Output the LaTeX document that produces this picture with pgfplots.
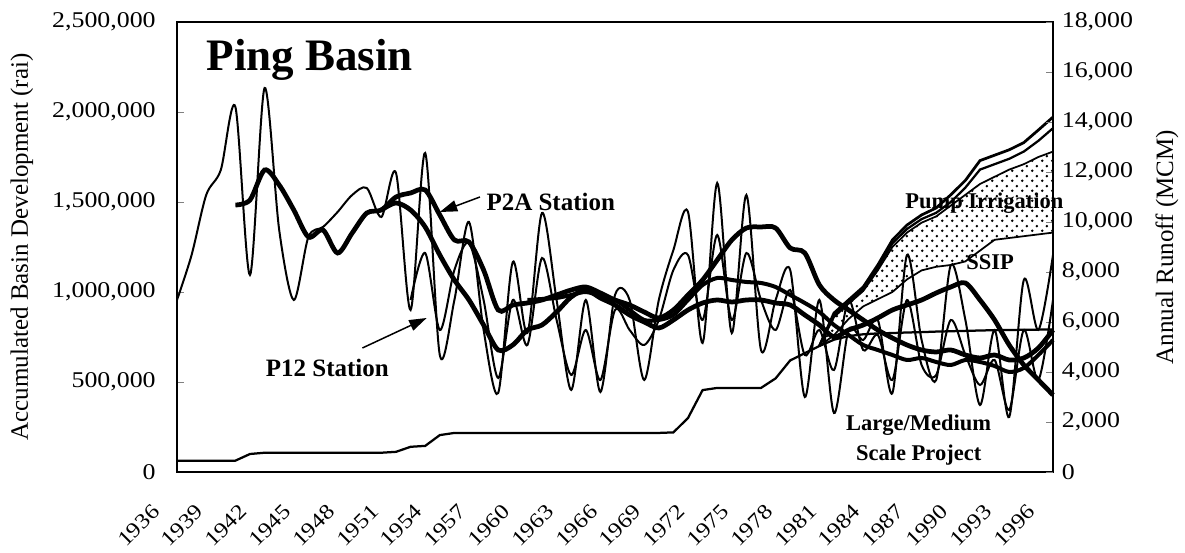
\documentclass[border=0pt]{standalone}
\usepackage{fontspec}
\setmainfont{Liberation Serif}
\newfontfamily\tickfont{Liberation Serif}[FakeStretch=1.15]
\usepackage{pgfplots}
\pgfplotsset{compat=1.18}
\usetikzlibrary{patterns,arrows.meta}
\pgfdeclarepatternformonly{mydots}{\pgfpointorigin}{\pgfpoint{4pt}{4pt}}{\pgfpoint{4pt}{4pt}}{%
 \pgfpathcircle{\pgfpoint{1pt}{1pt}}{0.6pt}%
 \pgfpathcircle{\pgfpoint{3pt}{3pt}}{0.6pt}%
 \pgfusepath{fill}}

\pgfplotstableread{
year LM
1936 63000
1937 63000
1938 63000
1939 63000
1940 63000
1941 100000
1942 107000
1943 107000
1944 107000
1945 107000
1946 107000
1947 107000
1948 107000
1949 107000
1950 107000
1951 112000
1952 140000
1953 145000
1954 205000
1955 217000
1956 217000
1957 217000
1958 217000
1959 217000
1960 217000
1961 217000
1962 217000
1963 217000
1964 217000
1965 217000
1966 217000
1967 217000
1968 217000
1969 217000
1970 220000
1971 300000
1972 455000
1973 467000
1974 467000
1975 467000
1976 467000
1977 520000
1978 620000
1979 660000
1980 700000
1981 735000
1982 755000
1983 765000
1984 770000
1985 772000
1986 775000
1987 777000
1988 780000
1989 782000
1990 784000
1991 786000
1992 788000
1993 789000
1994 790000
1995 791000
1996 792000
}\lmdata

\pgfplotstableread{
year SSIP Pump Other Total
1980 700000 700000 700000 700000
1981 760000 860000 870000 883000
1982 850000 935000 945000 956000
1983 920000 1005000 1015000 1028000
1984 960000 1120000 1135000 1150000
1985 1000000 1250000 1270000 1289000
1986 1070000 1330000 1350000 1372000
1987 1120000 1385000 1405000 1428000
1988 1140000 1420000 1440000 1467000
1989 1150000 1480000 1500000 1540000
1990 1170000 1540000 1580000 1620000
1991 1230000 1600000 1680000 1730000
1992 1290000 1640000 1710000 1760000
1993 1300000 1680000 1740000 1790000
1994 1310000 1710000 1780000 1830000
1995 1320000 1750000 1840000 1900000
1996 1330000 1780000 1910000 1972000
}\stackdata

\pgfplotstableread{
year P12
1936 6880
1937 8680
1938 11080
1939 12080
1940 14600
1941 7880
1942 15360
1943 9680
1944 6880
1945 9400
1946 9800
1947 10400
1948 11080
1949 11360
1950 10200
1951 11960
1952 6480
1953 12760
1954 4680
1955 6880
1956 10000
1957 5680
1958 3160
1959 8400
1960 5560
1961 10360
1962 6880
1963 3280
1964 6880
1965 3200
1966 7080
1967 6880
1968 3680
1969 6880
1970 8880
1971 10400
1972 5160
1973 11560
1974 5560
1975 11080
1976 4880
1977 6880
1978 8080
1979 3000
1980 6880
1981 2360
1982 5680
1983 5280
1984 6080
1985 3160
1986 8680
1987 5280
1988 3680
1989 8280
1990 6080
1991 2680
1992 5680
1993 2200
1994 7680
1995 5680
1996 8680
}\ptwelve

\pgfplotstableread{
year P2A
1952 6880
1953 8760
1954 5680
1955 8080
1956 9160
1957 6880
1958 3760
1959 6880
1960 5080
1961 8560
1962 6080
1963 3880
1964 5680
1965 3680
1966 6480
1967 5680
1968 5080
1969 6080
1970 8080
1971 8680
1972 6080
1973 9480
1974 6080
1975 8760
1976 6880
1977 5680
1978 7280
1979 4680
1980 5680
1981 4080
1982 6880
1983 4880
1984 5480
1985 3680
1986 6880
1987 4280
1988 3880
1989 6080
1990 4680
1991 3480
1992 4480
1993 2480
1994 5680
1995 3680
1996 6880
}\ptwoa

\pgfplotstableread{
year A
1940 10680
1941 10880
1942 12080
1943 11480
1944 10480
1945 9400
1946 9680
1947 8760
1948 9560
1949 10360
1950 10480
1951 11000
1952 11160
1953 11280
1954 10280
1955 9280
1956 9200
1957 8080
1958 6480
1959 6680
1960 6760
1961 6880
1962 7080
1963 7280
1964 7400
1965 7160
1966 6880
1967 6680
1968 6400
1969 6160
1970 6480
1971 7080
1972 7680
1973 8480
1974 9280
1975 9760
1976 9800
1977 9760
1978 8960
1979 8760
1980 7480
1981 6880
1982 6480
1983 6080
1984 5680
1985 5360
1986 5080
1987 4880
1988 4800
1989 4880
1990 4680
1991 4560
1992 4680
1993 4480
1994 4560
1995 4960
1996 5680
}\mavA

\pgfplotstableread{
year B
1950 10480
1951 10760
1952 10480
1953 9800
1954 8680
1955 7680
1956 6880
1957 5880
1958 4880
1959 5080
1960 5680
1961 5880
1962 6400
1963 7000
1964 7280
1965 6960
1966 6680
1967 6280
1968 6000
1969 5760
1970 6080
1971 6480
1972 6760
1973 6880
1974 6800
1975 6880
1976 6880
1977 6760
1978 6680
1979 6280
1980 5880
1981 5400
1982 5680
1983 5880
1984 6160
1985 6480
1986 6680
1987 6880
1988 7160
1989 7400
1990 7560
1991 6880
1992 6080
1993 5080
1994 4280
1995 3680
1996 3080
}\mavB

\pgfplotstableread{
year C
1960 6880
1961 6920
1962 6960
1963 7080
1964 7200
1965 7040
1966 6880
1967 6480
1968 6080
1969 6080
1970 6280
1971 6880
1972 7480
1973 7760
1974 7680
1975 7600
1976 7560
1977 7400
1978 7080
1979 6760
1980 6400
1981 5880
1982 5480
1983 5080
1984 4880
1985 4680
1986 4480
1987 4560
1988 4400
1989 4280
1990 4480
1991 4400
1992 4240
1993 4000
1994 4160
1995 4680
1996 5280
}\mavC

\begin{document}
\begin{tikzpicture}
\pgfplotsset{
  common/.style={width=350.4pt,height=180pt,scale only axis,xmin=1936,xmax=1996,
    axis line style={line width=0.8pt}, tick align=inside, major tick length=3pt,
    /pgf/number format/assume math mode=true,
    /pgf/number format/fixed,
    ticklabel style={font=\tickfont\fontsize{9}{10}\selectfont},
    label style={font=\fontsize{10}{12}\selectfont},
  },
}
\begin{axis}[common, name=ax, axis on top,
  ymin=0, ymax=2500000, ytick={0,500000,...,2500000}, scaled y ticks=false,
  ytick pos=left, xtick={1936,1939,...,1996}, xtick pos=bottom,
  xtick style={draw=none},
  yticklabel style={xshift=-5pt},
  xticklabel style={/pgf/number format/1000 sep={}, font=\tickfont\fontsize{8.5}{10}\selectfont, xshift=-6pt, yshift=-12pt, rotate=45, anchor=east},
  ylabel={Accumulated Basin Development (rai)},
  ylabel style={at={(axis description cs:-0.177,0.5)}, anchor=center},
]
\addplot[draw=none, pattern=mydots] table[x=year,y=Pump] {\stackdata} \closedcycle;
\addplot[draw=none, fill=white] table[x=year,y=SSIP] {\stackdata} \closedcycle;
\addplot[black, line width=0.7pt] table[x=year,y=SSIP] {\stackdata};
\addplot[black, line width=0.7pt] table[x=year,y=Pump] {\stackdata};
\addplot[black, line width=0.9pt] table[x=year,y=LM] {\lmdata};
\addplot[black, line width=0.9pt] table[x=year,y=Other] {\stackdata};
\addplot[black, line width=1.1pt] table[x=year,y=Total] {\stackdata};
\end{axis}

\begin{axis}[common,
  ymin=0, ymax=18000, ytick={0,2000,...,18000}, scaled y ticks=false,
  axis x line=none, axis y line*=right, clip=false,
  ylabel={Annual Runoff (MCM)},
  ylabel style={at={(axis description cs:1.130,0.5)}, anchor=center},
]
\addplot[black, line width=0.8pt, smooth] table[x=year,y=P12] {\ptwelve};
\addplot[black, line width=0.8pt, smooth] table[x=year,y=P2A] {\ptwoa};
\addplot[black, line width=1.9pt, smooth] table[x=year,y=A] {\mavA};
\addplot[black, line width=1.9pt, smooth] table[x=year,y=B] {\mavB};
\addplot[black, line width=1.6pt, smooth] table[x=year,y=C] {\mavC};

\node[font=\fontsize{18}{20}\selectfont\bfseries] at (axis cs:1945.1,16480) {Ping Basin};
\node[font=\fontsize{10}{12}\selectfont\bfseries] at (axis cs:1961.6,10800) {P2A Station};
\node[font=\fontsize{10}{12}\selectfont\bfseries] at (axis cs:1946.3,4160) {P12 Station};
\draw[-{Triangle[length=7pt,width=4.5pt]}, line width=0.6pt] (axis cs:1956.75,11000) -- (axis cs:1954.0,10400);
\draw[-{Triangle[length=7pt,width=4.5pt]}, line width=0.6pt] (axis cs:1948.7,4960) -- (axis cs:1953.1,6160);
\node[font=\fontsize{9}{11}\selectfont\bfseries] at (axis cs:1991.3,10760) {Pump Irrigation};
\node[font=\fontsize{9}{11}\selectfont\bfseries] at (axis cs:1991.7,8400) {SSIP};
\node[font=\fontsize{9}{11}\selectfont\bfseries, align=center] at (axis cs:1986.8,1280) {Large/Medium\\[1pt]Scale Project};
\end{axis}
\pgfresetboundingbox
\path[use as bounding box] ([shift={(-70.8pt,-32.4pt)}]ax.south west) rectangle ([shift={(52.8pt,8.8pt)}]ax.north east);
\end{tikzpicture}
\end{document}
